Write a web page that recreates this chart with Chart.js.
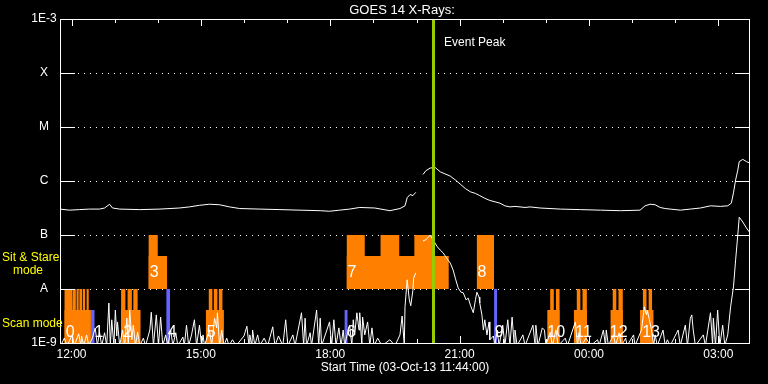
<!DOCTYPE html>
<html>
<head>
<meta charset="utf-8">
<script src="https://cdn.jsdelivr.net/npm/chart.js@4.4.0/dist/chart.umd.min.js"></script>
<style>
  html, body { margin: 0; padding: 0; background: #000; }
  canvas { display: block; }
</style>
</head>
<body>
<canvas id="goes_chart" width="768" height="384"></canvas>
<script>
// all times are minutes after 03-Oct-13 11:44:00, fluxes are log10(W/m^2)

// 1-8 A channel (upper curve), null = data gap
const long_t = [0,13,27,41,55,62,69,73,83,111,139,166,180,194,208,222,236,250,278,306,334,362,375,389,403,417,438,459,473,480,483,487,491,495,
  500,505,509,515,522,529,543,550,557,564,571,578,584,591,598,612,619,626,633,640,647,654,668,696,724,752,780,807,814,821,828,835,842,849,
  863,877,891,905,919,929,934,937,940,943,945,950,955,960];
const long_v = [-6.52,-6.54,-6.53,-6.52,-6.52,-6.50,-6.43,-6.50,-6.52,-6.53,-6.52,-6.50,-6.48,-6.45,-6.43,-6.44,-6.48,-6.51,-6.52,-6.53,
  -6.54,-6.55,-6.56,-6.54,-6.52,-6.49,-6.50,-6.55,-6.51,-6.46,-6.31,-6.25,-6.27,-6.21,
  null,-5.88,-5.81,-5.76,-5.75,-5.83,-5.91,-5.98,-6.06,-6.14,-6.20,-6.23,-6.27,-6.32,-6.36,-6.41,-6.46,-6.48,-6.47,-6.48,-6.49,-6.48,
  -6.50,-6.52,-6.53,-6.54,-6.55,-6.54,-6.46,-6.43,-6.44,-6.49,-6.51,-6.52,-6.54,-6.52,-6.50,-6.46,-6.47,-6.46,-6.41,-6.22,-5.98,-5.80,
  -5.64,-5.60,-5.64,-5.67];

// 0.5-4 A channel (lower curve), mostly under 1E-9
const short_t = [1,6,10,17,20,26,29,30,33,37,40,45,49,52,55,58,62,65,68,70,72,75,77,79,80,83,87,90,93,95,97,100,102,105,108,111,116,119,
  125,127,130,134,137,140,143,147,150,154,157,161,164,171,173,176,179,183,187,190,194,197,199,201,208,211,215,218,219,222,225,228,232,235,
  240,245,256,260,263,264,267,268,271,275,278,284,289,296,299,304,310,314,317,324,327,336,339,341,343,348,350,357,360,362,364,375,378,
  381,384,388,391,394,396,401,403,406,408,410,413,416,417,420,421,424,428,431,434,437,442,448,459,466,473,476,479,480,483,486,488,491,
  492,495,500,505,509,515,519,525,529,533,538,543,547,550,554,558,561,565,568,571,575,578,580,583,584,587,589,591,594,597,598,603,605,
  608,611,616,619,623,626,629,632,633,636,644,647,658,661,662,665,671,674,676,682,685,690,693,703,706,717,720,722,725,732,738,748,750,
  756,759,760,763,770,773,778,781,787,789,798,800,809,812,813,814,816,817,820,823,826,828,831,839,842,845,849,860,863,870,873,877,879,
  881,884,895,898,905,908,909,912,915,918,922,925,929,933,937,940,943,945,950,955,960];
const short_v = [-9.05,-8.91,-9.05,-8.85,-9.05,-8.83,-9.05,-8.87,-9.05,-8.85,-9.05,-8.91,-8.72,-9.05,-8.80,-9.05,-8.81,-9.05,-8.26,-9.05,
  -8.57,-9.05,-8.39,-8.87,-8.61,-9.05,-8.76,-9.05,-8.54,-9.05,-8.39,-8.94,-8.67,-9.05,-8.80,-9.05,-8.91,-9.05,
  -8.76,-8.43,-9.05,-8.48,-9.05,-8.52,-9.05,-8.85,-9.05,-8.76,-9.05,-8.81,-9.05,-8.89,-9.05,-8.67,-9.05,-8.85,-8.57,-9.05,-8.67,-9.05,
  -8.85,-9.05,-8.76,-9.05,-8.54,-8.72,-8.44,-9.05,-8.76,-9.05,-8.91,-9.05,
  -8.94,-9.05,-8.87,-8.69,-9.05,-8.85,-9.05,-8.76,-9.05,-8.85,-9.05,-8.91,-9.05,-8.70,-9.05,-8.87,-9.05,-8.57,-9.05,-8.85,-9.05,-8.44,
  -9.05,-8.54,-9.05,-8.81,-9.05,-8.39,-9.05,-8.54,-9.05,-8.61,-9.05,
  -8.57,-9.05,-8.72,-9.05,-8.76,-9.05,-8.76,-8.67,-9.05,-8.57,-8.85,-8.44,-8.76,-8.44,-9.05,-8.52,-8.85,-8.61,-9.05,-8.72,-9.05,-8.91,
  -9.05,-8.94,-9.05,-8.85,-8.50,-9.05,-8.33,-7.83,-8.20,-8.31,-8.02,
  -7.80,-7.70,null,-7.11,-7.09,-7.00,-7.09,-7.22,-7.28,-7.33,-7.43,-7.52,-7.65,-7.80,-7.98,-8.06,-8.07,-8.20,-8.17,-8.30,-8.44,-8.20,
  -8.06,-8.15,-8.26,-8.48,-8.76,-8.57,-8.85,-8.61,-8.94,-8.87,-9.05,
  -8.76,-9.05,-8.67,-9.05,-8.57,-9.05,-8.52,-9.05,-8.76,-9.05,-8.85,-9.05,-8.67,-9.05,-8.67,-9.05,-8.72,-8.76,-9.05,-8.80,-9.05,-8.76,
  -9.05,-8.91,-9.05,-8.61,-9.05,-8.81,-9.05,-8.91,-9.05,-8.94,-9.05,
  -8.76,-9.05,-8.76,-9.05,-8.85,-9.05,-8.81,-9.05,-8.91,-9.05,-8.85,-9.05,-8.76,-8.44,-8.33,-8.39,-8.48,-8.39,-8.57,-8.76,-9.05,-8.85,
  -9.05,-8.76,-9.05,-8.94,-9.05,-8.76,-9.05,-8.67,-9.05,-8.54,-8.48,
  -8.76,-9.05,-8.85,-9.05,-8.44,-9.05,-8.54,-9.05,-8.39,-9.05,-8.67,-9.05,-8.85,-8.33,-7.96,-7.46,-7.00,-6.67,-6.76,-6.87,-6.96];

// scan mode observations (drawn from 1E-9 up)
const scan_half_start = [6, 85, 203, 678, 715, 766, 807];
const scan_half_end   = [43, 112, 228, 695, 733, 783, 826];
const scan_full_start = [6,18,23,27,32,37, 85,94,102, 207,214,221, 682,690, 719,727, 769,777, 811,819];
const scan_full_end   = [17,22,26,31,35,40, 91,100,108, 212,219,226, 687,695, 724,733, 774,783, 816,824];
// sit & stare observations (drawn from A up)
const stare_half_start = [123, 399];
const stare_half_end   = [149, 541];
const stare_full_start = [123, 399, 446, 493, 580];
const stare_full_end   = [136, 424, 472, 518, 604];
// blue markers
const mark_start = [43, 148, 396, 604];
const mark_end   = [48, 153, 400, 608];
const mark_top   = [-8.39, -8, -8.39, -8];

// observation numbers
const obs_labels = ['0','1','2','3','4','5','6','7','8','9','10','11','12','13'];
const obs_t      = [8, 48, 88, 125, 150, 204, 399, 400, 581, 605, 678, 717, 765, 810];
const obs_v      = [-8.81,-8.81,-8.81,-7.69,-8.81,-8.81,-8.81,-7.69,-7.69,-8.81,-8.81,-8.81,-8.81,-8.81];

const SCAN_BASE = -9, SCAN_HALF = -8.39, SCAN_FULL = -8;
const STARE_BASE = -8, STARE_HALF = -7.39, STARE_FULL = -7;

const event_peak = 519;
const x_tick_t = [16, 196, 376, 556, 736, 916];
const x_tick_labels = ['12:00', '15:00', '18:00', '21:00', '00:00', '03:00'];
const y_tick_v = [-9, -8, -7, -6, -5, -4, -3];
const y_tick_labels = ['1E-9', 'A', 'B', 'C', 'M', 'X', '1E-3'];

const ORANGE = '#ff8000';
const BLUE = '#6464ff';
const GREEN = '#99cc00';
const YELLOW = '#ffff00';
const FONT = '"Liberation Sans", Arial, sans-serif';

function toPoints(ts, vs) {
    const pts = [];
    for (let i = 0; i < ts.length; i++) pts.push({x: ts[i], y: vs[i]});
    return pts;
}

function blockPoints(starts, ends, tops, base) {
    const pts = [];
    for (let i = 0; i < starts.length; i++) {
        const top = Array.isArray(tops) ? tops[i] : tops;
        pts.push({x: starts[i], y: base}, {x: starts[i], y: top}, {x: ends[i], y: top}, {x: ends[i], y: base});
    }
    return pts;
}

function blockSet(pts, color, base, order) {
    return {
        data: pts, borderWidth: 0, borderColor: color, backgroundColor: color,
        pointRadius: 0, fill: {value: base}, order: order, tension: 0
    };
}

const goesFrame = {
    id: 'goesFrame',
    beforeDraw(chart) {
        const ctx = chart.ctx;
        ctx.save();
        ctx.fillStyle = '#000';
        ctx.fillRect(0, 0, chart.width, chart.height);
        ctx.restore();
    },
    beforeDatasetsDraw(chart) {
        // dotted grid lines at each decade
        const ctx = chart.ctx, a = chart.chartArea, y = chart.scales.y;
        ctx.save();
        ctx.strokeStyle = '#fff';
        ctx.lineWidth = 1;
        ctx.setLineDash([1, 5]);
        for (let i = 1; i < y_tick_v.length - 1; i++) {
            const py = Math.round(y.getPixelForValue(y_tick_v[i])) + 0.5;
            ctx.beginPath();
            ctx.moveTo(a.left + 18, py);
            ctx.lineTo(a.right - 15, py);
            ctx.stroke();
        }
        ctx.restore();
    },
    afterDatasetsDraw(chart) {
        const ctx = chart.ctx, a = chart.chartArea, x = chart.scales.x, y = chart.scales.y;
        ctx.save();

        // event peak
        const ex = x.getPixelForValue(event_peak);
        ctx.fillStyle = GREEN;
        ctx.fillRect(Math.round(ex) - 1, a.top, 3, a.bottom - a.top);

        ctx.strokeStyle = '#fff';
        ctx.lineWidth = 1;
        ctx.setLineDash([]);
        ctx.strokeRect(a.left + 0.5, a.top + 0.5, a.right - a.left - 1, a.bottom - a.top);

        ctx.beginPath();
        for (let i = 1; i < y_tick_v.length - 1; i++) {
            const py = Math.round(y.getPixelForValue(y_tick_v[i])) + 0.5;
            ctx.moveTo(a.left, py); ctx.lineTo(a.left + 15, py);
            ctx.moveTo(a.right - 15, py); ctx.lineTo(a.right, py);
        }
        // hourly ticks, longer every 3 hours
        for (let k = 0; k < 16; k++) {
            const px = Math.round(x.getPixelForValue(x_tick_t[0] + k * 60)) + 0.5;
            const len = k % 3 === 0 ? 7 : 4;
            ctx.moveTo(px, a.top); ctx.lineTo(px, a.top + len);
            ctx.moveTo(px, a.bottom); ctx.lineTo(px, a.bottom - len);
        }
        ctx.stroke();

        ctx.fillStyle = '#fff';
        ctx.font = '12px ' + FONT;
        ctx.textAlign = 'center';
        ctx.textBaseline = 'middle';
        for (let i = 0; i < y_tick_v.length; i++) {
            ctx.fillText(y_tick_labels[i], 44, y.getPixelForValue(y_tick_v[i]));
        }
        for (let i = 0; i < x_tick_t.length; i++) {
            ctx.fillText(x_tick_labels[i], x.getPixelForValue(x_tick_t[i]), a.bottom + 12);
        }
        ctx.fillText('Start Time (03-Oct-13 11:44:00)', 405, a.bottom + 25);
        ctx.font = '13px ' + FONT;
        ctx.fillText('GOES 14 X-Rays:', 402, 10);

        ctx.font = '12px ' + FONT;
        ctx.textAlign = 'left';
        ctx.fillText('Event Peak', ex + 11, 43);

        ctx.fillStyle = YELLOW;
        ctx.fillText('Sit & Stare', 2, 258);
        ctx.fillText('mode', 13, 271);
        ctx.fillText('Scan mode', 2, 323.5);

        ctx.fillStyle = '#fff';
        ctx.font = '16px "Liberation Sans Narrow", ' + FONT;
        for (let i = 0; i < obs_labels.length; i++) {
            ctx.fillText(obs_labels[i], x.getPixelForValue(obs_t[i]), y.getPixelForValue(obs_v[i]));
        }
        ctx.restore();
    }
};

const config = {
    type: 'line',
    data: {
        datasets: [
            {data: toPoints(long_t, long_v), borderColor: '#fff', borderWidth: 1, pointRadius: 0, fill: false, order: 1, tension: 0},
            {data: toPoints(short_t, short_v), borderColor: '#fff', borderWidth: 1, pointRadius: 0, fill: false, order: 1, tension: 0},
            blockSet(blockPoints(mark_start, mark_end, mark_top, SCAN_BASE), BLUE, SCAN_BASE, 2),
            blockSet(blockPoints(scan_full_start, scan_full_end, SCAN_FULL, SCAN_BASE), ORANGE, SCAN_BASE, 3),
            blockSet(blockPoints(scan_half_start, scan_half_end, SCAN_HALF, SCAN_BASE), ORANGE, SCAN_BASE, 3),
            blockSet(blockPoints(stare_full_start, stare_full_end, STARE_FULL, STARE_BASE), ORANGE, STARE_BASE, 3),
            blockSet(blockPoints(stare_half_start, stare_half_end, STARE_HALF, STARE_BASE), ORANGE, STARE_BASE, 3)
        ]
    },
    options: {
        responsive: false,
        animation: false,
        devicePixelRatio: 1,
        layout: {padding: {left: 60, right: 18, top: 19, bottom: 41}},
        scales: {
            x: {type: 'linear', min: 0, max: 960, display: false},
            y: {type: 'linear', min: -9, max: -3, display: false}
        },
        plugins: {
            legend: {display: false},
            tooltip: {enabled: false}
        }
    },
    plugins: [goesFrame]
};

const goesChart = new Chart(document.getElementById('goes_chart'), config);
</script>
</body>
</html>
